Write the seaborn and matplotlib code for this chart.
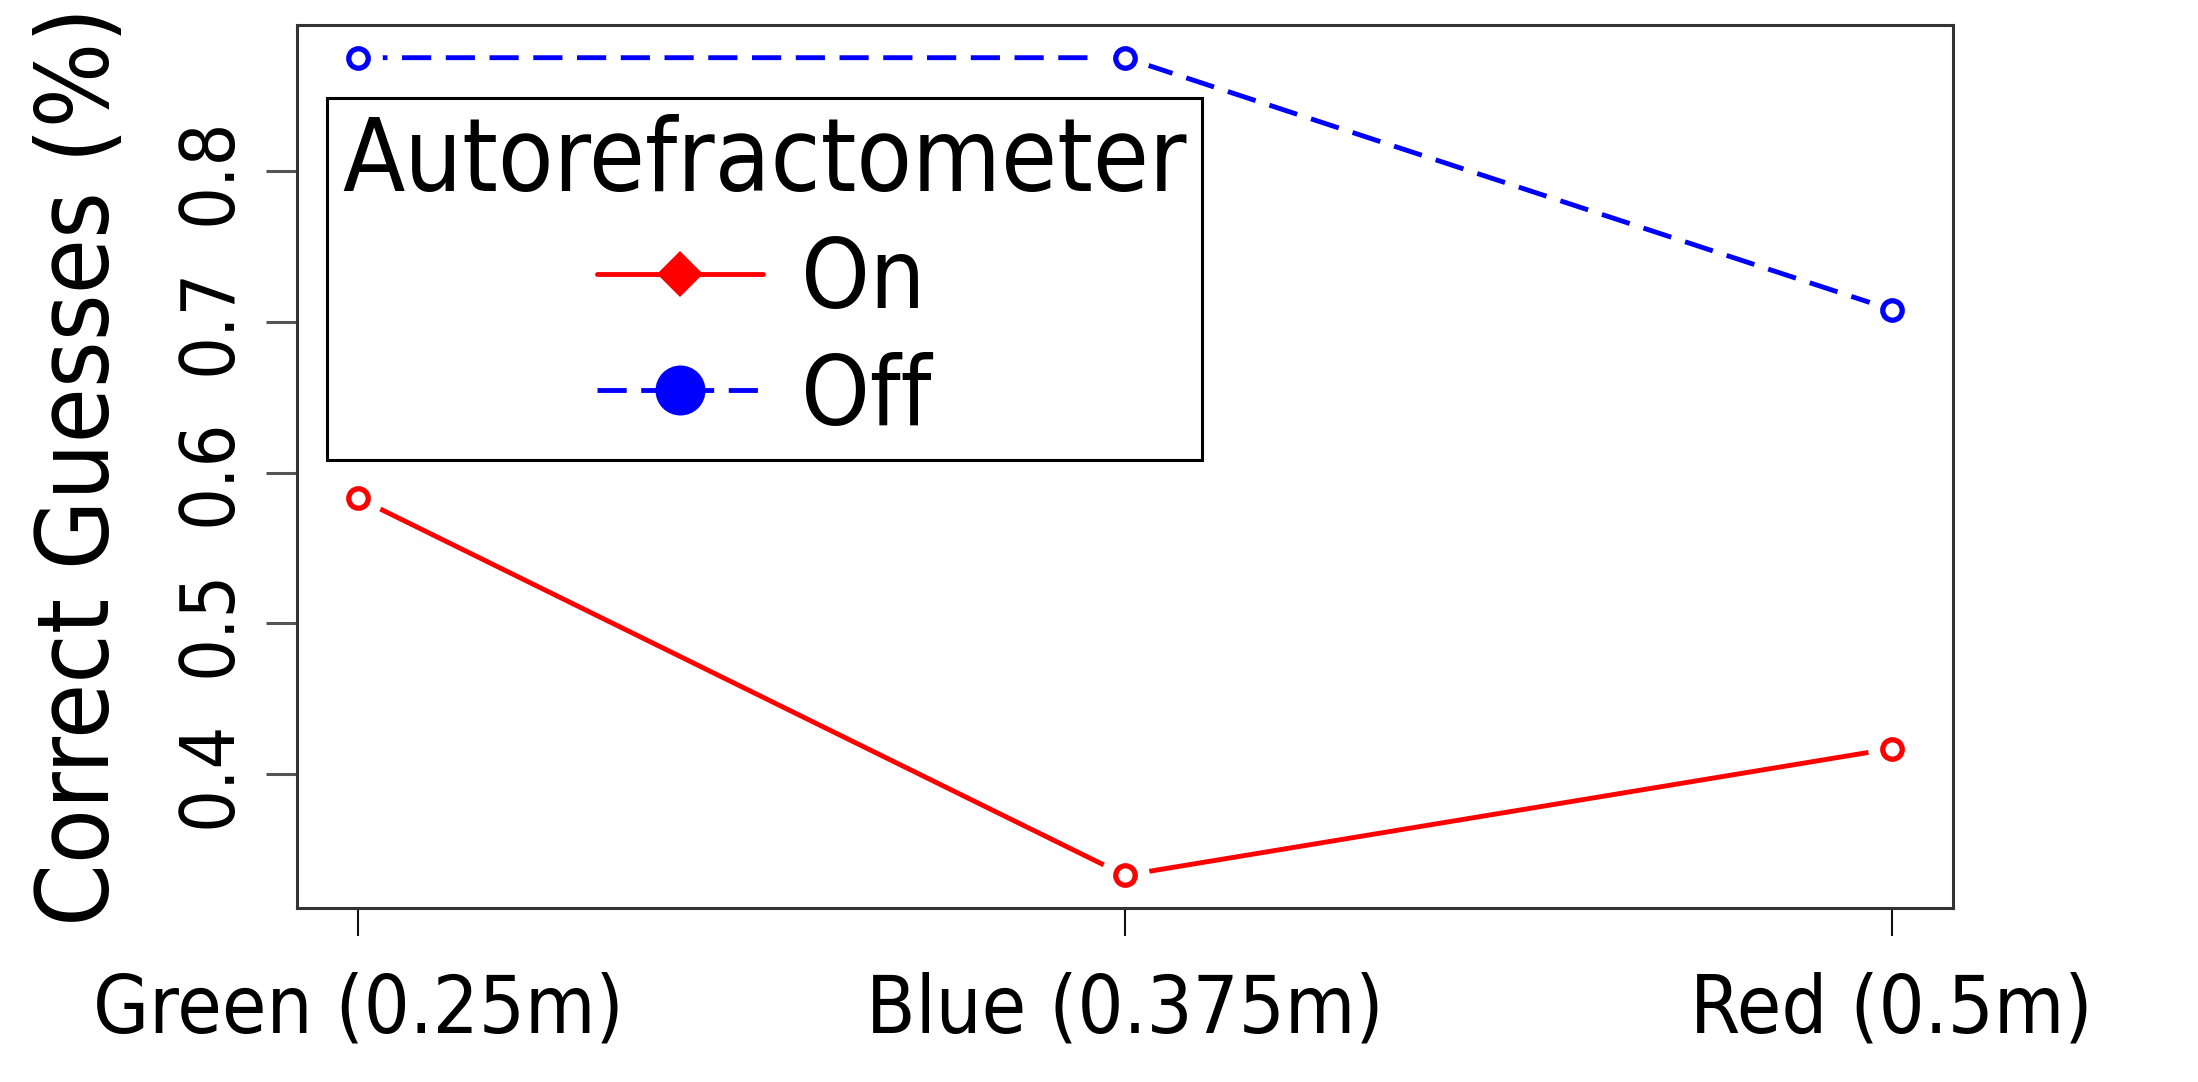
import numpy as np
import pandas as pd
import matplotlib
matplotlib.use("Agg")
import matplotlib.pyplot as plt
from matplotlib.lines import Line2D
import seaborn as sns

# ---- data ----
distances = ["Green (0.25m)", "Blue (0.375m)", "Red (0.5m)"]
autoref_on = [0.583, 0.333, 0.417]
autoref_off = [0.875, 0.875, 0.708]
groups = ["On", "Off"]
group_colors = {"On": "#ff0000", "Off": "#0000ff"}
y_ticks = [0.4, 0.5, 0.6, 0.7, 0.8]
y_label = "Correct Guesses (%)"
legend_title = "Autorefractometer"

sns.set_theme(style="white")
plt.rcParams["font.family"] = ["DejaVu Sans"]
plt.rcParams["font.stretch"] = "condensed"
plt.rcParams["text.color"] = "black"
plt.rcParams["axes.labelcolor"] = "black"
plt.rcParams["xtick.color"] = "black"
plt.rcParams["ytick.color"] = "black"

df = pd.DataFrame({
    "distance": distances * 2,
    "correct": autoref_on + autoref_off,
    "group": ["On"] * len(distances) + ["Off"] * len(distances),
})

fig = plt.figure(figsize=(21.98, 10.82), dpi=100)
ax = fig.add_axes([0.1351, 0.1608, 0.7534, 0.8161])

LW = 3.5
sns.lineplot(data=df, x="distance", y="correct", hue="group", style="group",
             palette=group_colors, dashes={"On": "", "Off": (6, 3)},
             linewidth=LW, legend=False, sort=False, ax=ax, zorder=2)

# type="b" style: gaps around points, open circles
for g, vals in (("On", autoref_on), ("Off", autoref_off)):
    ax.plot(distances, vals, linestyle="none", marker="o", ms=34,
            mfc="white", mec="white", zorder=3)
    ax.plot(distances, vals, linestyle="none", marker="o", ms=14,
            mfc="white", mec=group_colors[g], mew=3.8, zorder=4)

# R-like 4% range extension
n = len(distances)
ax.set_xlim(-0.04 * (n - 1), (n - 1) * 1.04)
allv = autoref_on + autoref_off
lo, hi = min(allv), max(allv)
ax.set_ylim(lo - 0.04 * (hi - lo), hi + 0.04 * (hi - lo))

ax.set_yticks(y_ticks)
ax.set_yticklabels([f"{v:.1f}" for v in y_ticks], rotation=90, va="center")
ax.set_xlabel("")
ax.set_ylabel(y_label, fontsize=72, labelpad=32)

ax.tick_params(axis="x", which="major", bottom=True, length=20, width=1.5,
               color="#111111", labelsize=58, pad=26, labelcolor="black")
ax.tick_params(axis="y", which="major", left=True, length=22, width=2.2,
               color="#555555", labelsize=54, pad=14, labelcolor="black")
for s in ax.spines.values():
    s.set_visible(True)
    s.set_color("#333333")
    s.set_linewidth(2.2)

handles = [
    Line2D([], [], color=group_colors["On"], lw=LW, marker="D", ms=23,
           mew=0),
    Line2D([], [], color=group_colors["Off"], lw=LW, ls=(0, (6, 3)),
           marker="o", ms=36, mew=0),
]
leg = ax.legend(handles, groups, title=legend_title, loc="upper left",
                bbox_to_anchor=(0.018, 0.917), borderaxespad=0,
                fontsize=70, title_fontsize=73, frameon=True, fancybox=False,
                framealpha=1, edgecolor="black", handlelength=1.7,
                handletextpad=0.4, labelspacing=0.24, borderpad=0.16)
leg.get_frame().set_linewidth(2.2)
for t in leg.get_texts():
    t.set_color("black")
leg.get_title().set_color("black")

fig.savefig("out.png", dpi=100)
